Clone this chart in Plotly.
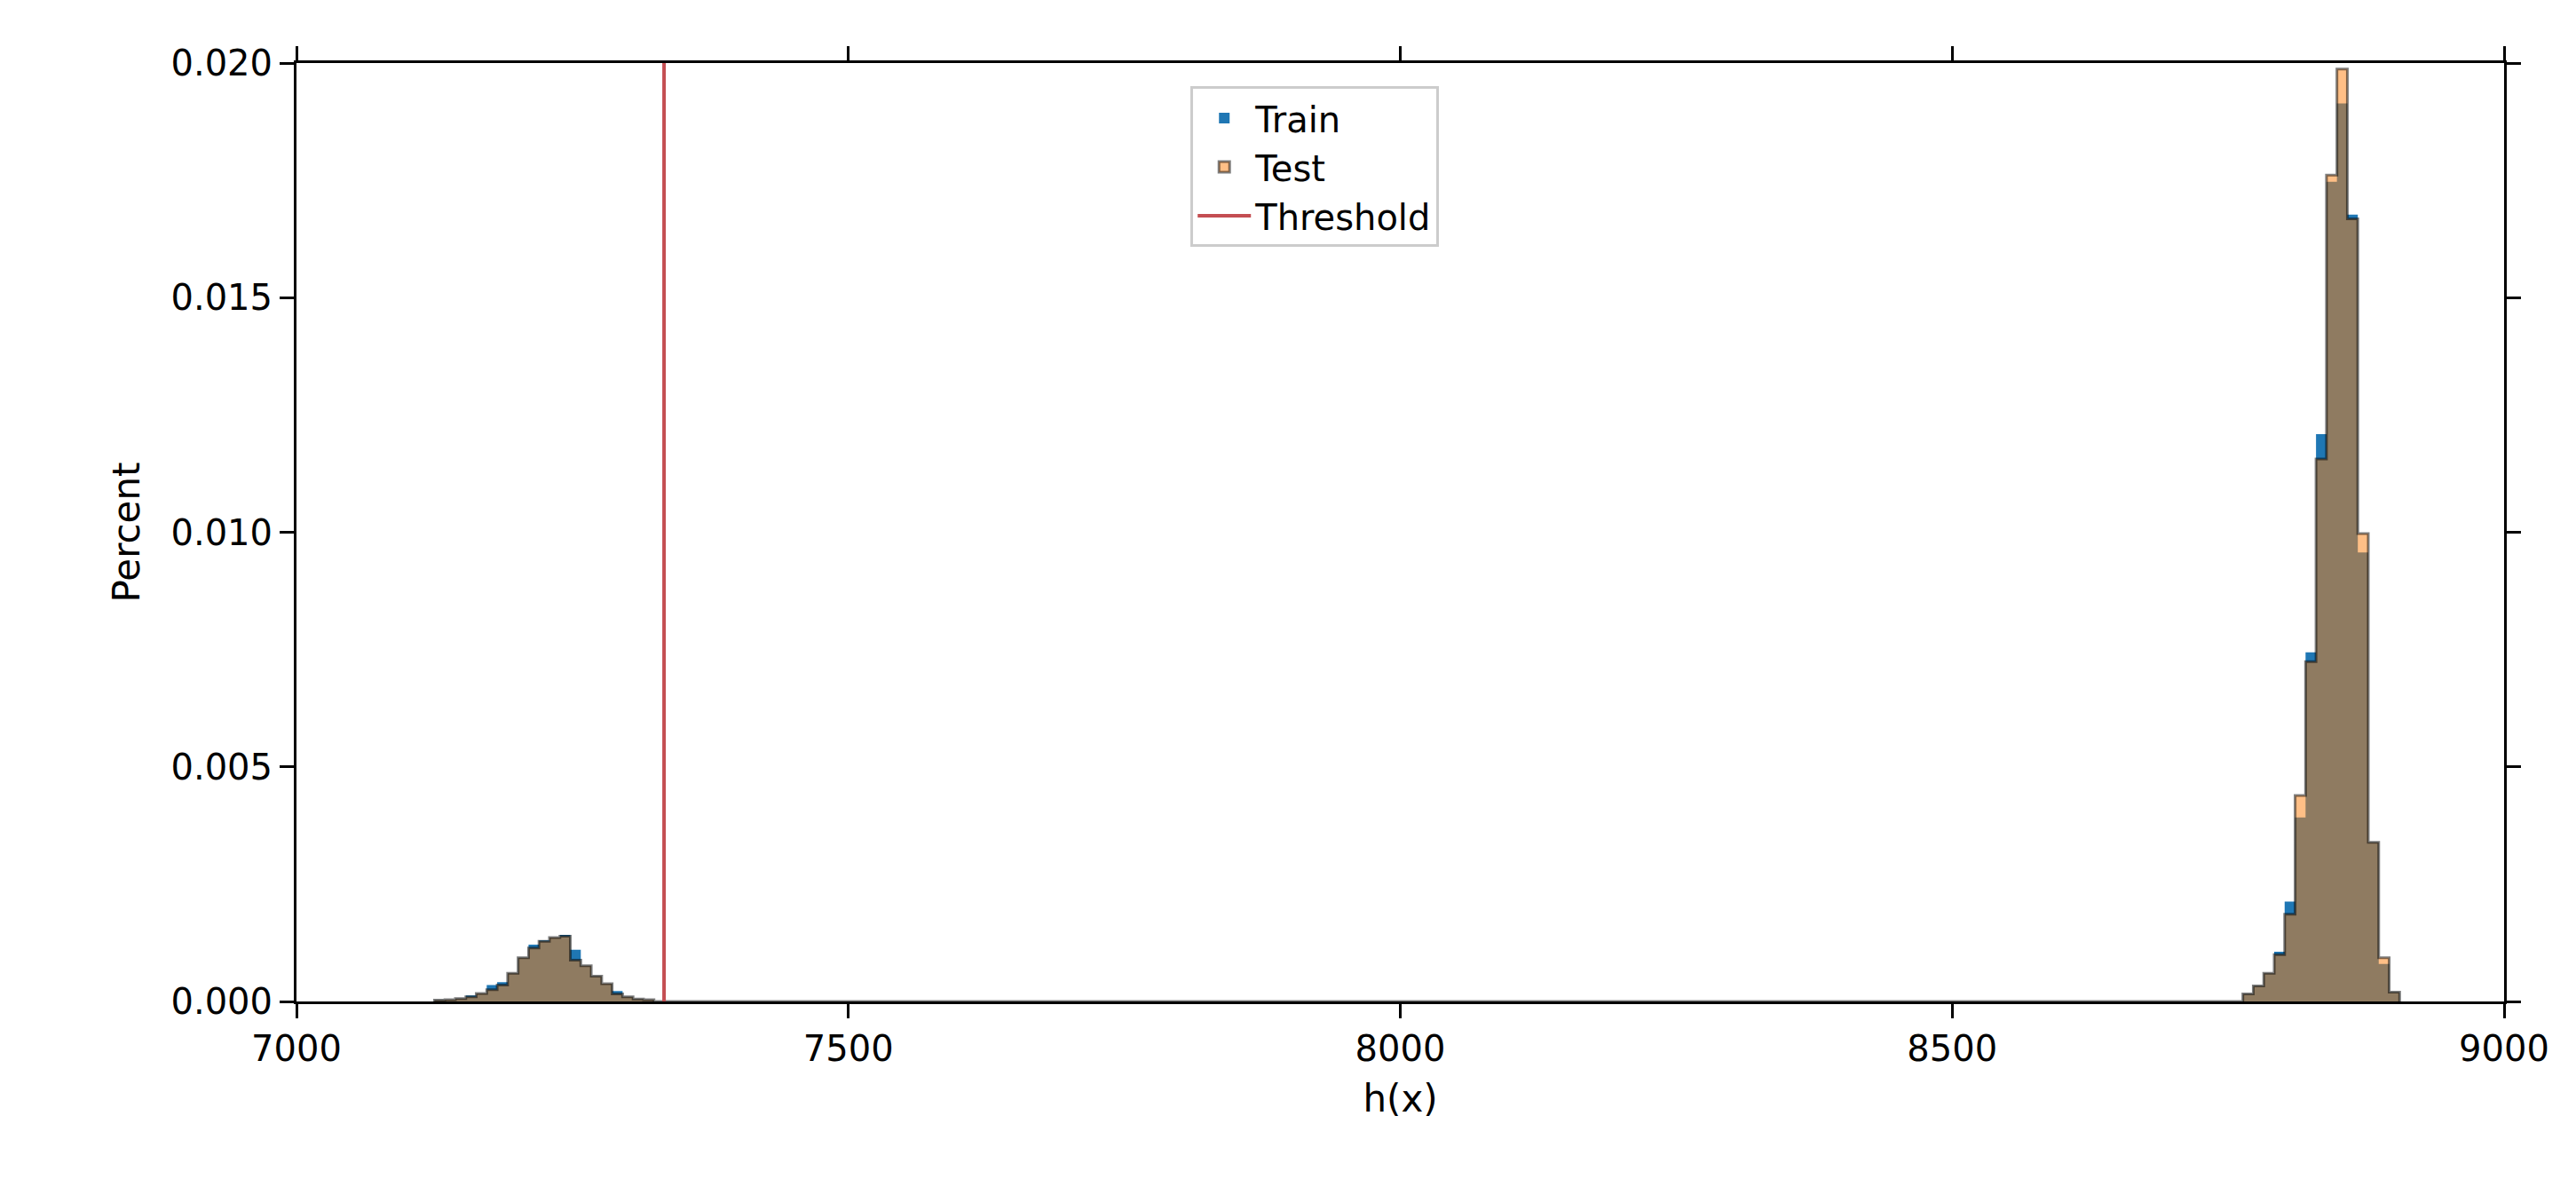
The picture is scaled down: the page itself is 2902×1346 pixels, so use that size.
import numpy as np
import plotly.graph_objects as go

bin_start = 7125.0
bin_width = 9.47
n_bins = 188
left_start_idx = 0
right_start_idx = 173

train_left = [0.00003, 0.00004, 0.00006, 0.00013, 0.00017, 0.00035, 0.00041, 0.0006, 0.00093, 0.00121,
              0.0013, 0.00136, 0.00142, 0.0011, 0.00076, 0.00054, 0.00038, 0.00022, 0.0001, 0.00005, 0.00004]
test_left = [0.00003, 0.00004, 0.00006, 0.0001, 0.00017, 0.00025, 0.00035, 0.0006, 0.00093, 0.00114,
             0.00128, 0.00136, 0.00139, 0.00088, 0.00076, 0.00054, 0.00038, 0.00016, 0.0001, 0.00005, 0.00004]
train_right = [0.00016, 0.00033, 0.0006, 0.00106, 0.00213, 0.00392, 0.00744, 0.01209, 0.01747, 0.01914,
               0.01677, 0.00957, 0.00339, 0.0008, 0.0002]
test_right = [0.00016, 0.00033, 0.0006, 0.001, 0.00186, 0.00439, 0.00724, 0.01156, 0.01761, 0.01987,
              0.01668, 0.00997, 0.00339, 0.00093, 0.0002]
threshold = 7333

def build(left, right):
    v = np.zeros(n_bins)
    v[left_start_idx:left_start_idx + len(left)] = left
    v[right_start_idx:right_start_idx + len(right)] = right
    edges = bin_start + bin_width * np.arange(n_bins + 1)
    x = np.concatenate([[edges[0]], edges[:-1], [edges[-1]], [edges[-1]]])
    y = np.concatenate([[0], v, [v[-1]], [0]])
    return x, y

xt, yt = build(train_left, train_right)
xs, ys = build(test_left, test_right)

fig = go.Figure()
fig.add_trace(go.Scatter(x=xt, y=yt, mode="lines", line=dict(shape="hv", width=0, color="#1f77b4"),
                         fill="tozeroy", fillcolor="#1f77b4", name="Train", showlegend=False))
fig.add_trace(go.Scatter(x=xs, y=ys, mode="lines", line=dict(shape="hv", width=3, color="rgba(0,0,0,0.5)"),
                         fill="tozeroy", fillcolor="rgba(255,127,14,0.5)", name="Test", showlegend=False))
fig.add_trace(go.Bar(x=[None], y=[None], marker=dict(color="#1f77b4", line=dict(width=0)), name="Train"))
fig.add_trace(go.Bar(x=[None], y=[None], marker=dict(color="rgba(255,127,14,0.5)",
                     line=dict(width=3, color="rgba(0,0,0,0.5)")), name="Test"))
fig.add_trace(go.Scatter(x=[threshold, threshold], y=[0, 0.02], mode="lines",
                         line=dict(color="#c44e52", width=4), name="Threshold"))

ax = dict(showline=True, linecolor="black", linewidth=3, mirror="ticks", ticks="outside",
          ticklen=16, tickwidth=3, tickcolor="black", showgrid=False, zeroline=False,
          tickfont=dict(size=40, color="black"))
fig.update_xaxes(**ax, range=[7000, 9000], tickvals=[7000, 7500, 8000, 8500, 9000],
                 title=dict(text="h(x)", font=dict(size=42, color="black"), standoff=20))
fig.update_yaxes(**ax, range=[0, 0.02], tickvals=[0, 0.005, 0.01, 0.015, 0.02], tickformat=".3f",
                 title=dict(text="Percent", font=dict(size=42, color="black"), standoff=22))
fig.update_layout(width=2902, height=1346, plot_bgcolor="white", paper_bgcolor="white",
                  font=dict(family="DejaVu Sans"),
                  margin=dict(l=326, r=89, t=63, b=226),
                  legend=dict(x=0.405, y=0.975, xanchor="left", yanchor="top", bgcolor="white",
                              bordercolor="#cccccc", borderwidth=3, font=dict(size=40, color="black"),
                              itemwidth=60, tracegroupgap=4))
fig.write_html("out.html")
